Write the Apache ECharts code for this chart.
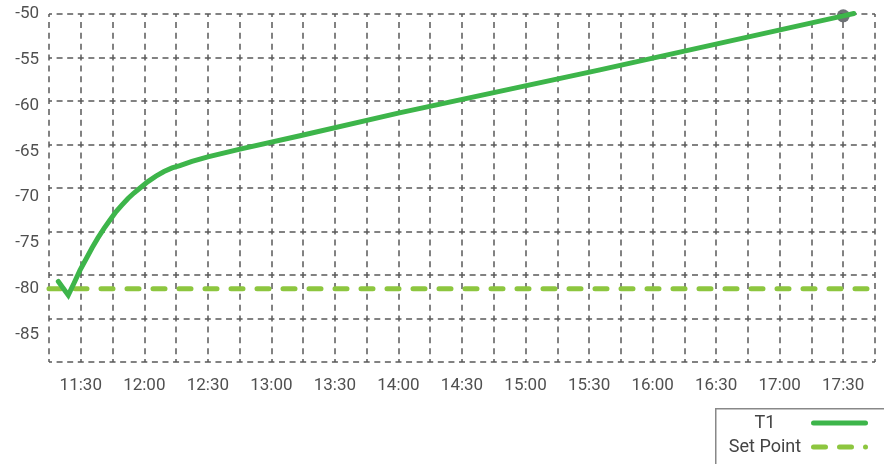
<!DOCTYPE html>
<html>
<head>
<meta charset="utf-8">
<script src="https://cdn.jsdelivr.net/npm/echarts@6/dist/echarts.min.js"></script>
<style>
html,body{margin:0;padding:0;background:#fff;overflow:hidden;}
#chart{width:884px;height:464px;}
</style>
</head>
<body>
<div id="chart"></div>
<script>
// ---- data ----
const t1Times = ['11:19:24','11:24:06','11:26:48','11:29:36','11:32:30','11:35:18','11:38:06','11:41:00','11:43:48','11:46:36','11:49:30','11:52:18','11:55:06','11:58:00','12:01:42','12:05:30','12:09:18','12:13:06','12:16:48','12:22:30','12:30:00','12:45:12','13:13:30','14:00:24','15:35:06','17:30:00','17:35:00'];
const t1Values = [-79.2,-80.7,-79.4,-78.0,-76.75,-75.55,-74.45,-73.4,-72.5,-71.6,-70.85,-70.15,-69.55,-69.0,-68.3,-67.7,-67.2,-66.8,-66.55,-66.1,-65.6,-64.75,-63.3,-60.8,-56.1,-50.2,-49.95];
const setPointTimes = ['11:15:00','17:45:00'];
const setPointValues = [-80, -80];
const currentTime = '17:30:00';
const currentValue = -50.2;
const xTickLabels = ['11:30','12:00','12:30','13:00','13:30','14:00','14:30','15:00','15:30','16:00','16:30','17:00','17:30'];
const yTickLabels = [-50,-55,-60,-65,-70,-75,-80,-85];
const xMin = '11:15', xMax = '17:45';
const yMin = -88, yMax = -50;

function toMin(s){const p=s.split(':').map(Number);return p[0]*60+p[1]+(p[2]||0)/60;}
function fmt(m){const h=Math.floor(m/60), mm=Math.round(m-h*60);return h+':'+(mm<10?'0':'')+mm;}

const FONT = 'Roboto';
const chart = echarts.init(document.getElementById('chart'), null, {renderer:'canvas'});
chart.setOption({
  animation:false,
  backgroundColor:'#fff',
  grid:{left:49,right:9,top:14,bottom:102,containLabel:false},
  graphic:[{type:'polyline',z:1,shape:{points:[[715.75,480],[715.75,408.75],[900,408.75]]},
            style:{fill:null,stroke:'#888',lineWidth:1.5}}],
  xAxis:{
    type:'value', min:toMin(xMin), max:toMin(xMax), interval:15,
    axisLine:{show:false}, axisTick:{show:false},
    axisLabel:{customValues:xTickLabels.map(toMin), formatter:v=>fmt(v), margin:15, fontSize:17, color:'#505050', fontFamily:FONT},
    splitLine:{show:true,lineStyle:{color:'#5a5a5a',width:1.5,type:[6,4.875],dashOffset:3}}
  },
  yAxis:[{
    type:'value', min:yMin, max:yMax,
    axisLine:{show:false}, axisTick:{show:false}, splitLine:{show:false},
    axisLabel:{customValues:yTickLabels, margin:10, fontSize:17, color:'#505050', fontFamily:FONT}
  },{
    type:'value', min:0, max:8, interval:1, position:'left',
    axisLine:{show:false}, axisTick:{show:false}, axisLabel:{show:false},
    splitLine:{show:true,lineStyle:{color:'#5a5a5a',width:1.5,type:[6,4.59],dashOffset:3}}
  }],
  legend:{
    left:715, top:408, height:120, orient:'vertical', align:'right', z:5,
    padding:[6,10,20,9], borderWidth:0,
    itemWidth:57, itemHeight:5, itemGap:6, selectedMode:false,
    itemStyle:{borderWidth:0},
    formatter:'{a|{name}}',
    textStyle:{color:'#444',fontSize:18,fontFamily:FONT,rich:{a:{width:82,lineHeight:18,align:'center',fontSize:18,color:'#444',fontFamily:FONT}}},
    data:[
      {name:'T1',icon:'path://M2.5,0h52a2.5,2.5 0 0 1 0,5h-52a2.5,2.5 0 0 1 0,-5z'},
      {name:'Set Point',icon:'path://M2.5,0h12a2.5,2.5 0 0 1 0,5h-12a2.5,2.5 0 0 1 0,-5zM28.5,0h12a2.5,2.5 0 0 1 0,5h-12a2.5,2.5 0 0 1 0,-5zM54.5,0a2.5,2.5 0 0 1 0,5a2.5,2.5 0 0 1 0,-5z'}
    ]
  },
  series:[
    {name:'Set Point',type:'line',symbol:'none',showSymbol:false,color:'#8dc63f',
     data:setPointTimes.map((t,i)=>[toMin(t),setPointValues[i]]),
     lineStyle:{width:5,color:'#8dc63f',type:[12,14],cap:'round'}},
    {name:'T1',type:'line',symbol:'none',showSymbol:false,color:'#3db54a',clip:false,
     data:t1Times.map((t,i)=>[toMin(t),t1Values[i]]),
     lineStyle:{width:5,color:'#3db54a',cap:'round',join:'miter'}},
    {name:'current',type:'scatter',symbolSize:13,clip:false,
     itemStyle:{color:'#4a4f54'},
     data:[[toMin(currentTime),currentValue]]}
  ]
});
</script>
</body>
</html>
